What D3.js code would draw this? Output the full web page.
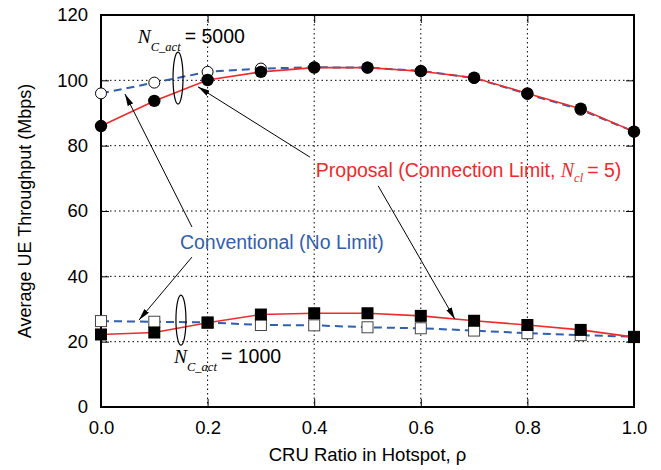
<!DOCTYPE html>
<html>
<head>
<meta charset="utf-8">
<script src="https://cdn.jsdelivr.net/npm/d3@7"></script>
<style>
  html, body { margin: 0; padding: 0; background: #fff; }
  svg { display: block; }
  text { font-family: "Liberation Sans", Arial, Helvetica, sans-serif; }
</style>
</head>
<body>
<svg id="chart" width="661" height="470"></svg>
<script>
// CRU ratio in the hotspot
const rho = [0.0, 0.1, 0.2, 0.3, 0.4, 0.5, 0.6, 0.7, 0.8, 0.9, 1.0];

// Average UE throughput (Mbps), N_C_act = 5000
const proposal5000     = [86.0, 93.7, 100.1, 102.6, 103.9, 103.9, 102.8, 100.8, 96.0, 91.3, 84.3];
const conventional5000 = [96.0, 99.3, 102.6, 103.6, 104.0, 103.9, 102.9, 100.7, 95.8, 91.0, 84.3];

// Average UE throughput (Mbps), N_C_act = 1000
const proposal1000     = [22.2, 22.8, 25.8, 28.3, 28.7, 28.7, 27.9, 26.4, 25.1, 23.6, 21.4];
const conventional1000 = [26.3, 26.1, 25.9, 25.1, 25.0, 24.4, 24.1, 23.4, 22.6, 22.0, 21.5];

const xTicks = [0.0, 0.2, 0.4, 0.6, 0.8, 1.0];
const yTicks = [0, 20, 40, 60, 80, 100, 120];

const RED = "#ee2b2b";
const BLUE = "#2f5fb0";
const SERIF = "'Liberation Serif', 'Times New Roman', serif";

const svg = d3.select("#chart");
const m = { left: 101, right: 634, top: 15, bottom: 407 };

const x = d3.scaleLinear().domain([0, 1]).range([m.left, m.right]);
const y = d3.scaleLinear().domain([0, 120]).range([m.bottom, m.top]);

// dotted grid
const grid = svg.append("g");
grid.selectAll(".gx").data(xTicks.slice(1, -1)).join("line")
  .attr("x1", d => x(d)).attr("x2", d => x(d))
  .attr("y1", m.top).attr("y2", m.bottom)
  .attr("stroke", "#000").attr("stroke-width", 1).attr("stroke-dasharray", "1.5,3");
grid.selectAll(".gy").data(yTicks.slice(1, -1)).join("line")
  .attr("x1", m.left).attr("x2", m.right)
  .attr("y1", d => y(d)).attr("y2", d => y(d))
  .attr("stroke", "#000").attr("stroke-width", 1).attr("stroke-dasharray", "1.5,3");

// axes with inward ticks on all four sides
const fmtX = d3.format(".1f");
const axB = svg.append("g").attr("transform", `translate(0,${m.bottom})`)
  .call(d3.axisBottom(x).tickValues(xTicks).tickFormat(fmtX).tickSizeInner(-8).tickSizeOuter(0).tickPadding(14));
const axT = svg.append("g").attr("transform", `translate(0,${m.top})`)
  .call(d3.axisTop(x).tickValues(xTicks).tickFormat("").tickSizeInner(-8).tickSizeOuter(0));
const axL = svg.append("g").attr("transform", `translate(${m.left},0)`)
  .call(d3.axisLeft(y).tickValues(yTicks).tickSizeInner(-8).tickSizeOuter(0).tickPadding(13));
const axR = svg.append("g").attr("transform", `translate(${m.right},0)`)
  .call(d3.axisRight(y).tickValues(yTicks).tickFormat("").tickSizeInner(-8).tickSizeOuter(0));
[axB, axT, axL, axR].forEach(a => {
  a.select(".domain").remove();
  a.selectAll(".tick line").attr("stroke", "#000").attr("stroke-width", 1);
  a.selectAll("text").attr("fill", "#000").style("font-size", "18.5px")
    .style("font-family", "'Liberation Sans', Arial, sans-serif");
});

svg.append("rect").attr("x", m.left).attr("y", m.top)
  .attr("width", m.right - m.left).attr("height", m.bottom - m.top)
  .attr("fill", "none").attr("stroke", "#000").attr("stroke-width", 2);

// axis titles
svg.append("text").attr("x", (m.left + m.right) / 2).attr("y", 461)
  .attr("text-anchor", "middle").style("font-size", "18.5px").text("CRU Ratio in Hotspot, ρ");
svg.append("text").attr("transform", `translate(31,${(m.top + m.bottom) / 2}) rotate(-90)`)
  .attr("text-anchor", "middle").style("font-size", "18px").text("Average UE Throughput (Mbps)");

const line = vals => d3.line().x((d, i) => x(rho[i])).y(d => y(d))(vals);

// conventional (dashed blue) lines and open markers
[conventional5000, conventional1000].forEach(v => {
  svg.append("path").attr("d", line(v)).attr("fill", "none")
    .attr("stroke", BLUE).attr("stroke-width", 2).attr("stroke-dasharray", "8,5");
});
svg.append("g").selectAll("circle").data(conventional5000).join("circle")
  .attr("cx", (d, i) => x(rho[i])).attr("cy", d => y(d)).attr("r", 5.5)
  .attr("fill", "#fff").attr("stroke", "#000").attr("stroke-width", 1);
svg.append("g").selectAll("rect").data(conventional1000).join("rect")
  .attr("x", (d, i) => x(rho[i]) - 5.5).attr("y", d => y(d) - 5.5)
  .attr("width", 11).attr("height", 11)
  .attr("fill", "#fff").attr("stroke", "#444").attr("stroke-width", 1);

// proposal (solid red) lines and filled markers
[proposal5000, proposal1000].forEach(v => {
  svg.append("path").attr("d", line(v)).attr("fill", "none")
    .attr("stroke", RED).attr("stroke-width", 1.6);
});
svg.append("g").selectAll("circle").data(proposal5000).join("circle")
  .attr("cx", (d, i) => x(rho[i])).attr("cy", d => y(d)).attr("r", 6.2)
  .attr("fill", "#000");
svg.append("g").selectAll("rect").data(proposal1000).join("rect")
  .attr("x", (d, i) => x(rho[i]) - 6).attr("y", d => y(d) - 6)
  .attr("width", 12).attr("height", 12).attr("fill", "#000");

// annotations
svg.append("defs").append("marker")
  .attr("id", "arrow").attr("viewBox", "0 0 12 6").attr("refX", 12).attr("refY", 3)
  .attr("markerWidth", 12).attr("markerHeight", 6).attr("markerUnits", "userSpaceOnUse")
  .attr("orient", "auto")
  .append("path").attr("d", "M0,0 L12,3 L0,6 Z").attr("fill", "#000");

const arrows = [
  [[0.1707, 55.1], [0.045, 95.8]],
  [[0.1707, 45.9], [0.0713, 26.6]],
  [[0.392, 76.5], [0.182, 98.0]],
  [[0.520, 67.7], [0.664, 26.9]]
];
svg.append("g").selectAll("line").data(arrows).join("line")
  .attr("x1", d => x(d[0][0])).attr("y1", d => y(d[0][1]))
  .attr("x2", d => x(d[1][0])).attr("y2", d => y(d[1][1]))
  .attr("stroke", "#000").attr("stroke-width", 1).attr("marker-end", "url(#arrow)");

const ellipses = [[0.1445, 100.7, 26], [0.150, 26.6, 25]];
svg.append("g").selectAll("ellipse").data(ellipses).join("ellipse")
  .attr("cx", d => x(d[0])).attr("cy", d => y(d[1])).attr("rx", 5).attr("ry", d => d[2])
  .attr("fill", "none").attr("stroke", "#000").attr("stroke-width", 1.2);

function nLabel(px, py, value) {
  const t = svg.append("text").attr("x", x(px)).attr("y", y(py)).attr("fill", "#000");
  t.append("tspan").style("font-family", SERIF)
    .style("font-style", "italic").style("font-size", "19.5px").text("N");
  t.append("tspan").attr("dy", 8).style("font-family", SERIF)
    .style("font-style", "italic").style("font-size", "12.5px").text("C_act");
  t.append("tspan").attr("dy", -8).attr("dx", 4).style("font-size", "19.5px").text("= " + value);
}
nLabel(0.069, 111.4, 5000);
nLabel(0.137, 13.5, 1000);

const prop = svg.append("text").attr("x", x(0.403)).attr("y", y(70.4)).attr("fill", RED)
  .style("font-size", "19.5px");
prop.append("tspan").text("Proposal (Connection Limit, ");
prop.append("tspan").style("font-family", SERIF)
  .style("font-style", "italic").style("font-size", "20px").text("N");
prop.append("tspan").attr("dy", 5).style("font-family", SERIF)
  .style("font-style", "italic").style("font-size", "12.5px").text("cl");
prop.append("tspan").attr("dy", -5).attr("dx", 4).text("= 5)");

svg.append("text").attr("x", x(0.148)).attr("y", y(48.4)).attr("fill", BLUE)
  .style("font-size", "19.5px").text("Conventional (No Limit)");
</script>
</body>
</html>
